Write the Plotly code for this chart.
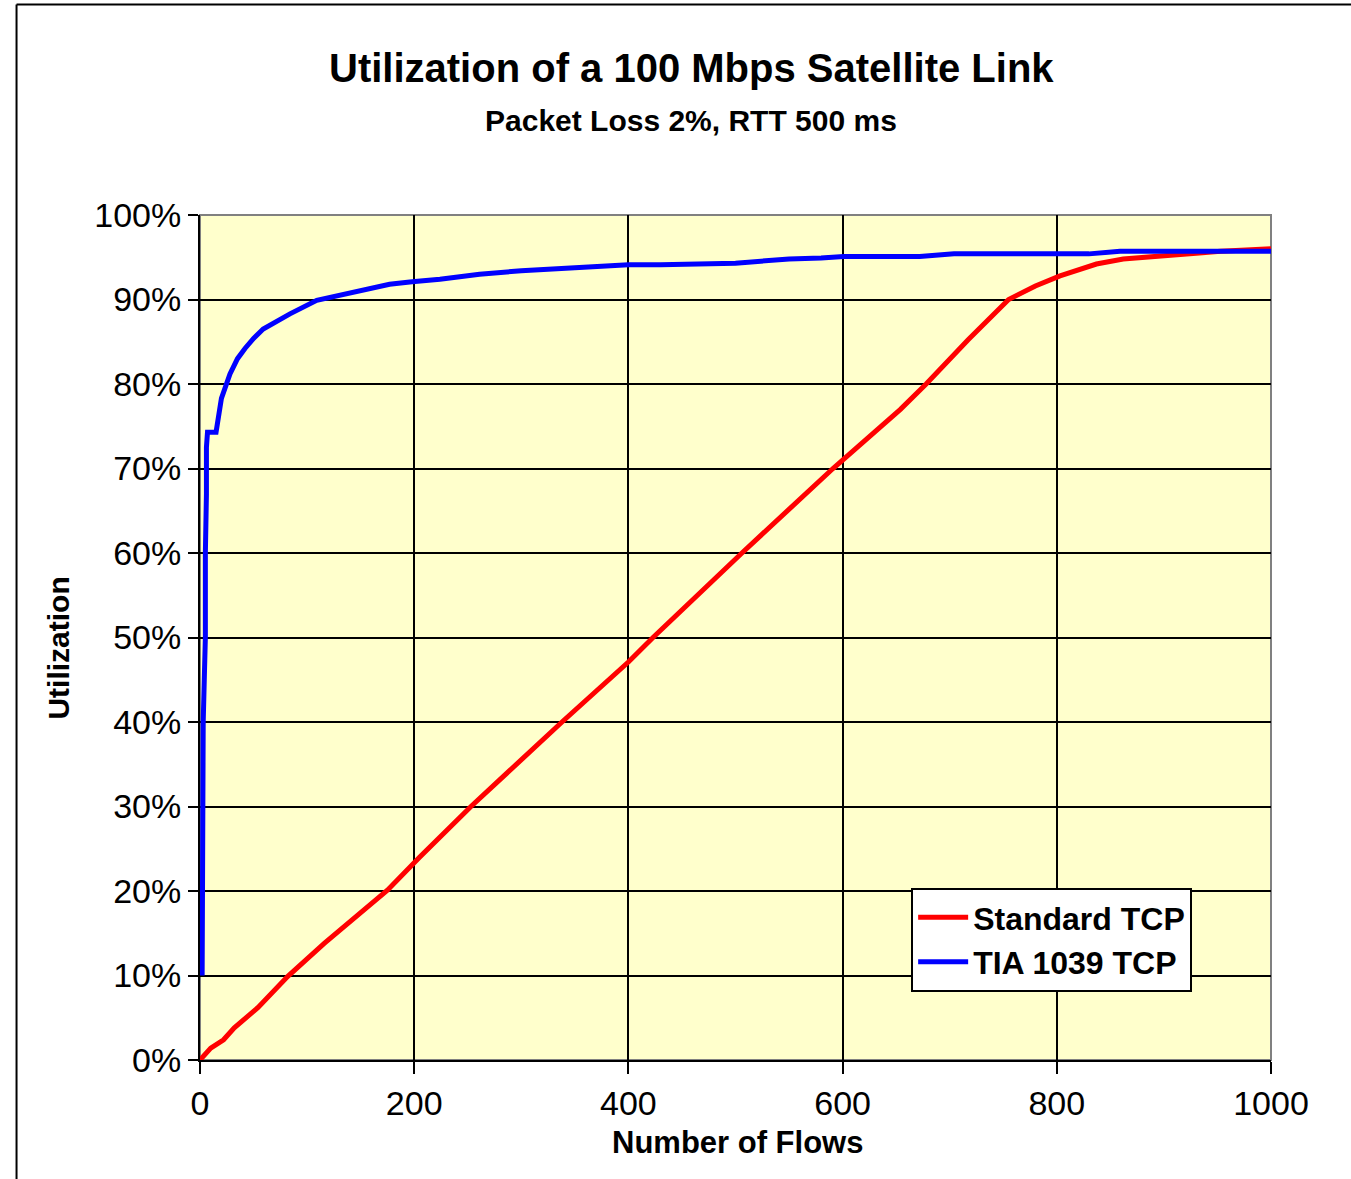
import plotly.graph_objects as go

# Standard TCP (red)
std_flows = [0, 10, 22, 32, 54, 82, 116, 147, 175, 205, 253, 338, 400, 423, 506, 591, 600,
             654, 678, 717, 755, 780, 803, 837, 862, 906, 953, 1000]
std_util = [0, 1.4, 2.4, 3.8, 6.2, 9.9, 13.8, 17.2, 20.1, 24.0, 30, 40, 47.1, 50, 60, 70, 71,
            77, 80, 85.2, 90, 91.6, 92.8, 94.2, 94.8, 95.3, 95.7, 96.0]

# TIA 1039 TCP (blue)
tia_flows = [2, 2, 3, 3, 4, 5, 5, 6, 6, 6, 7, 15, 20, 28, 35, 42, 50, 59, 84, 109, 124, 146,
             161, 177, 198, 224, 261, 300, 400, 430, 500, 550, 580, 601, 672, 704, 830, 859, 1000]
tia_util = [10, 20, 30, 40, 45, 50, 60, 65, 67, 72.5, 74.3, 74.3, 78.3, 81.2, 83, 84.2, 85.4,
            86.5, 88.3, 89.9, 90.3, 91.0, 91.3, 91.8, 92.1, 92.4, 93.0, 93.4, 94.1, 94.1, 94.3,
            94.8, 94.9, 95.1, 95.1, 95.4, 95.4, 95.7, 95.7]

x_ticks = [0, 200, 400, 600, 800, 1000]
y_ticks = [0, 10, 20, 30, 40, 50, 60, 70, 80, 90, 100]
y_tick_labels = [f"{v}%" for v in y_ticks]

FONT = "Arial, Liberation Sans, sans-serif"

fig = go.Figure()
fig.add_trace(go.Scatter(x=std_flows, y=std_util, mode="lines", name="Standard TCP",
                         line=dict(color="#FF0000", width=5)))
fig.add_trace(go.Scatter(x=tia_flows, y=tia_util, mode="lines", name="TIA 1039 TCP",
                         line=dict(color="#0000FF", width=5)))

fig.update_layout(
    width=1351, height=1179,
    margin=dict(l=200, r=80, t=215, b=119, pad=0),
    paper_bgcolor="white",
    plot_bgcolor="#FFFFCC",
    font=dict(family=FONT, color="black"),
    showlegend=True,
    legend=dict(x=0.664, y=0.2036, xanchor="left", yanchor="top",
                bgcolor="white", bordercolor="black", borderwidth=2,
                font=dict(family=FONT, size=32, color="black", weight="bold"),
                itemwidth=50, tracegroupgap=0),
    xaxis=dict(range=[0, 1000], tickvals=x_ticks, ticktext=[str(v) for v in x_ticks],
               showgrid=True, gridcolor="black", gridwidth=2,
               showline=True, linecolor="black", linewidth=2,
               ticks="outside", ticklen=12, tickwidth=2, tickcolor="black",
               tickfont=dict(family=FONT, size=34, color="black"),
               zeroline=False, fixedrange=True),
    yaxis=dict(range=[0, 100], tickvals=y_ticks, ticktext=y_tick_labels,
               showgrid=True, gridcolor="black", gridwidth=2,
               showline=True, linecolor="black", linewidth=2,
               ticks="outside", ticklen=10, tickwidth=2, tickcolor="black",
               tickfont=dict(family=FONT, size=34, color="black"),
               zeroline=False, fixedrange=True),
    shapes=[
        # gray plot-area frame (top/right)
        dict(type="rect", xref="paper", yref="paper", x0=0, y0=0, x1=1, y1=1,
             line=dict(color="#808080", width=2), layer="between"),
        # outer chart border (left & top)
        dict(type="line", xref="paper", yref="paper", x0=-0.1713, x1=-0.1713, y0=-0.16, y1=1.249,
             line=dict(color="black", width=2)),
        dict(type="line", xref="paper", yref="paper", x0=-0.1713, x1=1.09, y0=1.249, y1=1.249,
             line=dict(color="black", width=2)),
    ],
    annotations=[
        dict(text="<b>Utilization of a 100 Mbps Satellite Link</b>", xref="paper", yref="paper",
             x=0.4585, y=1.174, xanchor="center", yanchor="middle", showarrow=False,
             font=dict(family=FONT, size=40, color="black")),
        dict(text="<b>Packet Loss 2%, RTT 500 ms</b>", xref="paper", yref="paper",
             x=0.4585, y=1.1124, xanchor="center", yanchor="middle", showarrow=False,
             font=dict(family=FONT, size=30, color="black")),
        dict(text="<b>Number of Flows</b>", xref="paper", yref="paper",
             x=0.502, y=-0.098, xanchor="center", yanchor="middle", showarrow=False,
             font=dict(family=FONT, size=31, color="black")),
        dict(text="<b>Utilization</b>", xref="paper", yref="paper",
             x=-0.132, y=0.4876, xanchor="center", yanchor="middle", showarrow=False,
             textangle=-90, font=dict(family=FONT, size=30, color="black")),
    ],
)

fig.write_html("out.html")
